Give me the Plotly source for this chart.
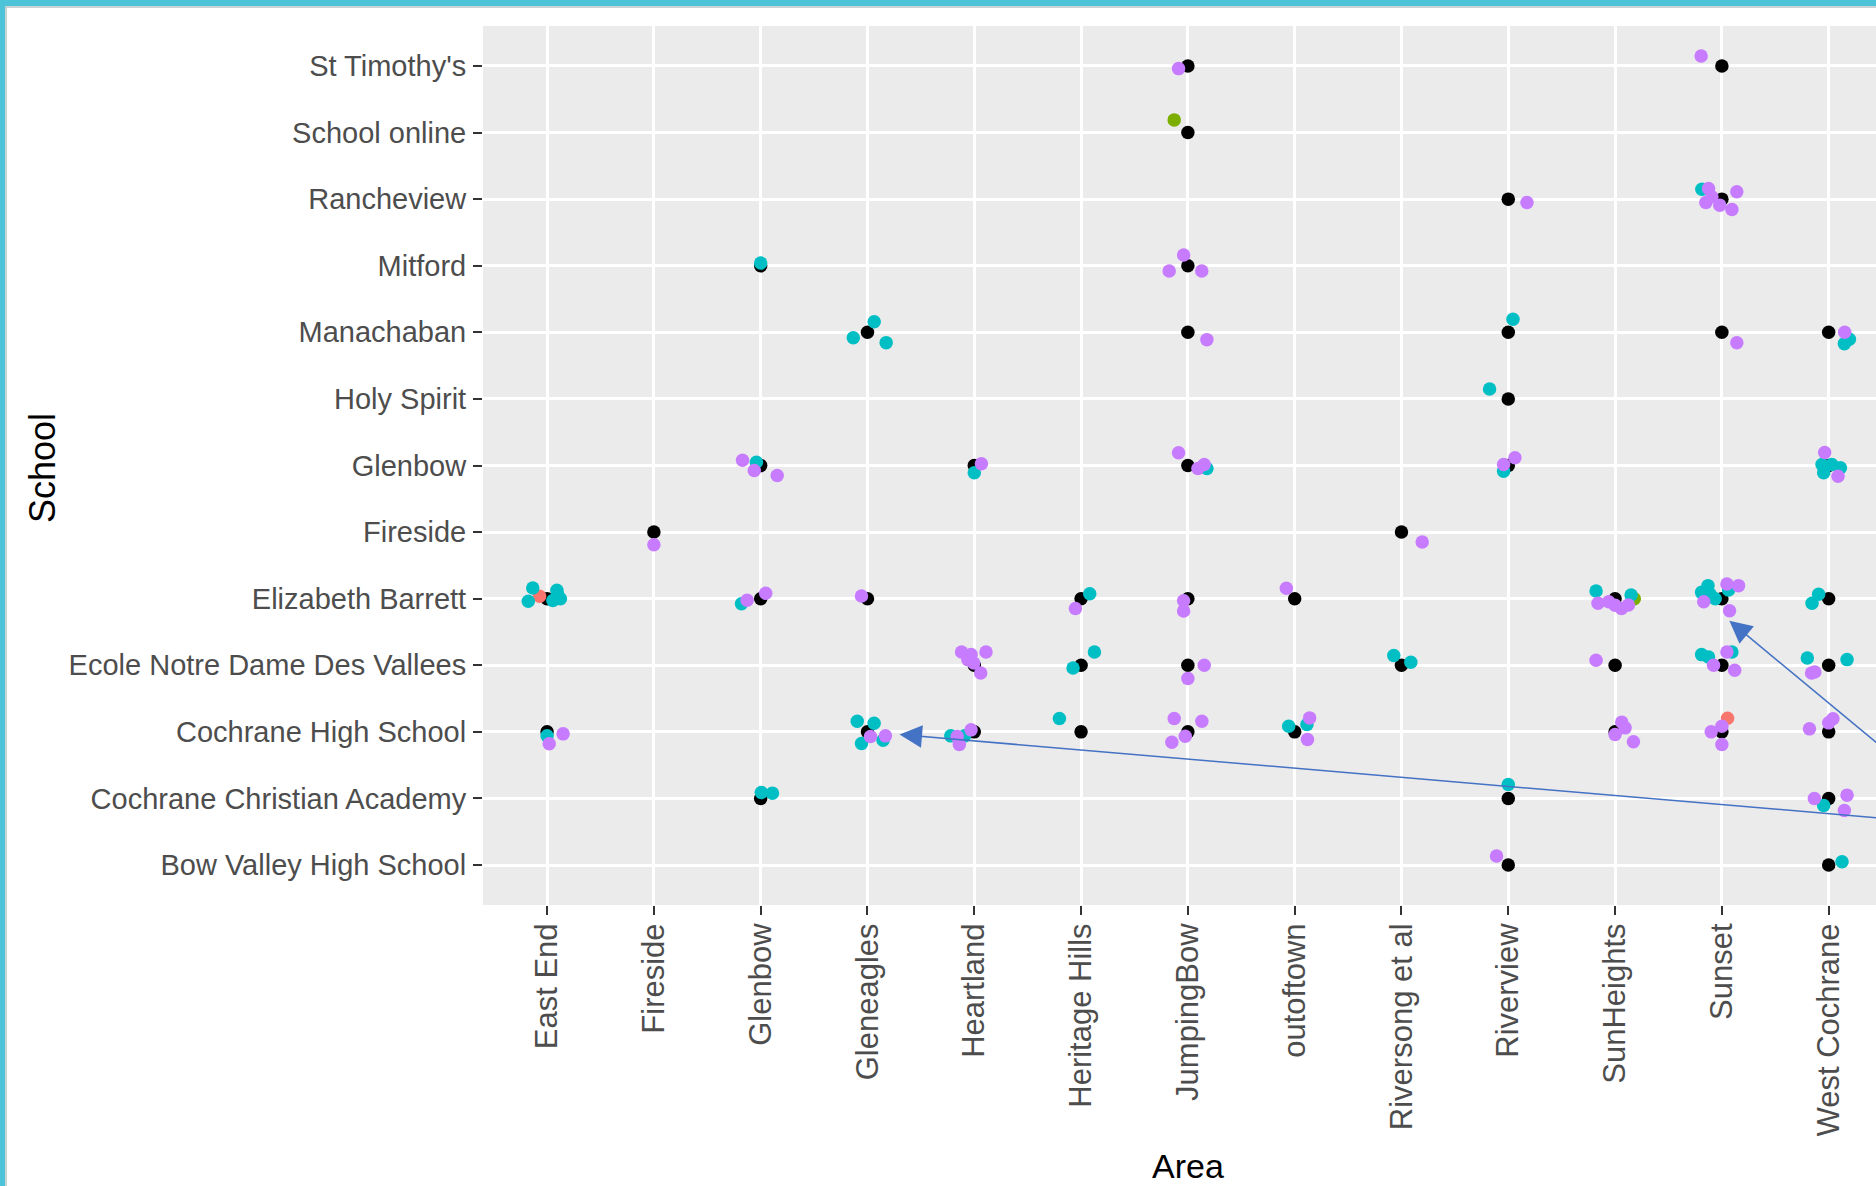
import plotly.graph_objects as go

# ---------------- data ----------------
areas = ["East End", "Fireside", "Glenbow", "Gleneagles", "Heartland", "Heritage Hills",
         "JumpingBow", "outoftown", "Riversong et al", "Riverview", "SunHeights",
         "Sunset", "West Cochrane"]

schools = ["Bow Valley High School", "Cochrane Christian Academy", "Cochrane High School",
           "Ecole Notre Dame Des Vallees", "Elizabeth Barrett", "Fireside", "Glenbow",
           "Holy Spirit", "Manachaban", "Mitford", "Rancheview", "School online",
           "St Timothy's"]

# black points: (area, school) observed combinations
observed = [
    ("East End", "Elizabeth Barrett"), ("East End", "Cochrane High School"),
    ("Fireside", "Fireside"),
    ("Glenbow", "Mitford"), ("Glenbow", "Glenbow"), ("Glenbow", "Elizabeth Barrett"),
    ("Glenbow", "Cochrane Christian Academy"),
    ("Gleneagles", "Manachaban"), ("Gleneagles", "Elizabeth Barrett"),
    ("Gleneagles", "Cochrane High School"),
    ("Heartland", "Glenbow"), ("Heartland", "Ecole Notre Dame Des Vallees"),
    ("Heartland", "Cochrane High School"),
    ("Heritage Hills", "Elizabeth Barrett"), ("Heritage Hills", "Ecole Notre Dame Des Vallees"),
    ("Heritage Hills", "Cochrane High School"),
    ("JumpingBow", "St Timothy's"), ("JumpingBow", "School online"), ("JumpingBow", "Mitford"),
    ("JumpingBow", "Manachaban"), ("JumpingBow", "Glenbow"), ("JumpingBow", "Elizabeth Barrett"),
    ("JumpingBow", "Ecole Notre Dame Des Vallees"), ("JumpingBow", "Cochrane High School"),
    ("outoftown", "Elizabeth Barrett"), ("outoftown", "Cochrane High School"),
    ("Riversong et al", "Fireside"), ("Riversong et al", "Ecole Notre Dame Des Vallees"),
    ("Riverview", "Rancheview"), ("Riverview", "Manachaban"), ("Riverview", "Holy Spirit"),
    ("Riverview", "Glenbow"), ("Riverview", "Cochrane Christian Academy"),
    ("Riverview", "Bow Valley High School"),
    ("SunHeights", "Elizabeth Barrett"), ("SunHeights", "Ecole Notre Dame Des Vallees"),
    ("SunHeights", "Cochrane High School"),
    ("Sunset", "St Timothy's"), ("Sunset", "Rancheview"), ("Sunset", "Manachaban"),
    ("Sunset", "Elizabeth Barrett"), ("Sunset", "Ecole Notre Dame Des Vallees"),
    ("Sunset", "Cochrane High School"),
    ("West Cochrane", "Manachaban"), ("West Cochrane", "Glenbow"),
    ("West Cochrane", "Elizabeth Barrett"), ("West Cochrane", "Ecole Notre Dame Des Vallees"),
    ("West Cochrane", "Cochrane High School"), ("West Cochrane", "Cochrane Christian Academy"),
    ("West Cochrane", "Bow Valley High School"),
]

# jittered points per group: (area, school, jitter_x, jitter_y)
group1_pts = [  # red
    ("East End", "Elizabeth Barrett", -0.07, 0.035),
    ("Sunset", "Cochrane High School", 0.053, 0.206),
]
group2_pts = [  # green
    ("JumpingBow", "School online", -0.128, 0.19),
    ("SunHeights", "Elizabeth Barrett", 0.18, 0.0),
]
group3_pts = [  # cyan
    ("East End", "Elizabeth Barrett", -0.134, 0.16),
    ("East End", "Elizabeth Barrett", -0.176, -0.04),
    ("East End", "Elizabeth Barrett", 0.092, 0.125),
    ("East End", "Elizabeth Barrett", 0.125, 0.0),
    ("East End", "Elizabeth Barrett", 0.054, -0.026),
    ("East End", "Elizabeth Barrett", 0.10, 0.06),
    ("East End", "Cochrane High School", 0.0, -0.06),
    ("Glenbow", "Mitford", 0.0, 0.04),
    ("Glenbow", "Glenbow", -0.04, 0.05),
    ("Glenbow", "Elizabeth Barrett", -0.18, -0.075),
    ("Glenbow", "Cochrane Christian Academy", 0.006, 0.09),
    ("Glenbow", "Cochrane Christian Academy", 0.11, 0.08),
    ("Gleneagles", "Manachaban", 0.063, 0.16),
    ("Gleneagles", "Manachaban", -0.133, -0.08),
    ("Gleneagles", "Manachaban", 0.175, -0.155),
    ("Gleneagles", "Cochrane High School", -0.096, 0.16),
    ("Gleneagles", "Cochrane High School", 0.062, 0.13),
    ("Gleneagles", "Cochrane High School", 0.146, -0.125),
    ("Gleneagles", "Cochrane High School", -0.056, -0.176),
    ("Heartland", "Glenbow", 0.0, -0.11),
    ("Heartland", "Cochrane High School", -0.22, -0.06),
    ("Heartland", "Cochrane High School", -0.09, -0.06),
    ("Heritage Hills", "Elizabeth Barrett", 0.081, 0.075),
    ("Heritage Hills", "Ecole Notre Dame Des Vallees", -0.075, -0.04),
    ("Heritage Hills", "Ecole Notre Dame Des Vallees", 0.125, 0.2),
    ("Heritage Hills", "Cochrane High School", -0.203, 0.2),
    ("JumpingBow", "Glenbow", 0.178, -0.045),
    ("outoftown", "Cochrane High School", -0.056, 0.085),
    ("outoftown", "Cochrane High School", 0.115, 0.11),
    ("Riversong et al", "Ecole Notre Dame Des Vallees", -0.072, 0.146),
    ("Riversong et al", "Ecole Notre Dame Des Vallees", 0.0875, 0.045),
    ("Riverview", "Manachaban", 0.044, 0.196),
    ("Riverview", "Holy Spirit", -0.175, 0.15),
    ("Riverview", "Glenbow", -0.044, -0.085),
    ("Riverview", "Cochrane Christian Academy", 0.0, 0.21),
    ("SunHeights", "Elizabeth Barrett", -0.178, 0.115),
    ("SunHeights", "Elizabeth Barrett", 0.15, 0.055),
    ("Sunset", "Rancheview", -0.1875, 0.15),
    ("Sunset", "Elizabeth Barrett", -0.19, 0.095),
    ("Sunset", "Elizabeth Barrett", -0.13, 0.196),
    ("Sunset", "Elizabeth Barrett", -0.11, 0.065),
    ("Sunset", "Elizabeth Barrett", -0.0625, 0.0),
    ("Sunset", "Elizabeth Barrett", 0.0625, 0.13),
    ("Sunset", "Ecole Notre Dame Des Vallees", -0.19, 0.16),
    ("Sunset", "Ecole Notre Dame Des Vallees", -0.125, 0.125),
    ("Sunset", "Ecole Notre Dame Des Vallees", 0.094, 0.2),
    ("West Cochrane", "Manachaban", 0.194, -0.105),
    ("West Cochrane", "Manachaban", 0.147, -0.17),
    ("West Cochrane", "Glenbow", -0.0625, 0.015),
    ("West Cochrane", "Glenbow", 0.03, 0.015),
    ("West Cochrane", "Glenbow", 0.11, -0.035),
    ("West Cochrane", "Glenbow", -0.047, -0.11),
    ("West Cochrane", "Elizabeth Barrett", -0.094, 0.065),
    ("West Cochrane", "Elizabeth Barrett", -0.156, -0.07),
    ("West Cochrane", "Ecole Notre Dame Des Vallees", -0.2, 0.11),
    ("West Cochrane", "Ecole Notre Dame Des Vallees", 0.172, 0.085),
    ("West Cochrane", "Cochrane Christian Academy", -0.047, -0.105),
    ("West Cochrane", "Bow Valley High School", 0.125, 0.05),
]
group4_pts = [  # purple
    ("East End", "Cochrane High School", 0.02, -0.18),
    ("East End", "Cochrane High School", 0.15, -0.03),
    ("Fireside", "Fireside", 0.0, -0.19),
    ("Glenbow", "Glenbow", -0.17, 0.08),
    ("Glenbow", "Glenbow", -0.06, -0.075),
    ("Glenbow", "Glenbow", 0.155, -0.15),
    ("Glenbow", "Elizabeth Barrett", -0.127, -0.025),
    ("Glenbow", "Elizabeth Barrett", 0.047, 0.08),
    ("Gleneagles", "Elizabeth Barrett", -0.056, 0.04),
    ("Gleneagles", "Cochrane High School", 0.028, -0.07),
    ("Gleneagles", "Cochrane High School", 0.168, -0.06),
    ("Heartland", "Glenbow", 0.067, 0.025),
    ("Heartland", "Ecole Notre Dame Des Vallees", -0.119, 0.2),
    ("Heartland", "Ecole Notre Dame Des Vallees", -0.03, 0.16),
    ("Heartland", "Ecole Notre Dame Des Vallees", 0.11, 0.2),
    ("Heartland", "Ecole Notre Dame Des Vallees", -0.06, 0.085),
    ("Heartland", "Ecole Notre Dame Des Vallees", -0.006, 0.035),
    ("Heartland", "Ecole Notre Dame Des Vallees", 0.06, -0.115),
    ("Heartland", "Cochrane High School", -0.16, -0.07),
    ("Heartland", "Cochrane High School", -0.14, -0.19),
    ("Heartland", "Cochrane High School", -0.03, 0.03),
    ("Heritage Hills", "Elizabeth Barrett", -0.053, -0.146),
    ("JumpingBow", "St Timothy's", -0.0875, -0.04),
    ("JumpingBow", "Mitford", -0.04, 0.16),
    ("JumpingBow", "Mitford", -0.175, -0.08),
    ("JumpingBow", "Mitford", 0.13, -0.08),
    ("JumpingBow", "Manachaban", 0.178, -0.11),
    ("JumpingBow", "Glenbow", -0.0875, 0.19),
    ("JumpingBow", "Glenbow", 0.094, -0.045),
    ("JumpingBow", "Glenbow", 0.153, 0.015),
    ("JumpingBow", "Elizabeth Barrett", -0.04, -0.03),
    ("JumpingBow", "Elizabeth Barrett", -0.04, -0.186),
    ("JumpingBow", "Ecole Notre Dame Des Vallees", 0.153, 0.0),
    ("JumpingBow", "Ecole Notre Dame Des Vallees", 0.0, -0.2),
    ("JumpingBow", "Cochrane High School", -0.128, 0.2),
    ("JumpingBow", "Cochrane High School", 0.131, 0.16),
    ("JumpingBow", "Cochrane High School", -0.025, -0.065),
    ("JumpingBow", "Cochrane High School", -0.15, -0.156),
    ("outoftown", "Elizabeth Barrett", -0.078, 0.156),
    ("outoftown", "Cochrane High School", 0.14, 0.21),
    ("outoftown", "Cochrane High School", 0.12, -0.115),
    ("Riversong et al", "Fireside", 0.194, -0.15),
    ("Riverview", "Rancheview", 0.175, -0.05),
    ("Riverview", "Glenbow", 0.0625, 0.115),
    ("Riverview", "Glenbow", -0.044, 0.015),
    ("Riverview", "Bow Valley High School", -0.11, 0.135),
    ("SunHeights", "Elizabeth Barrett", -0.16, -0.07),
    ("SunHeights", "Elizabeth Barrett", -0.06, -0.045),
    ("SunHeights", "Elizabeth Barrett", 0.0, -0.1),
    ("SunHeights", "Elizabeth Barrett", 0.06, -0.146),
    ("SunHeights", "Elizabeth Barrett", 0.125, -0.095),
    ("SunHeights", "Ecole Notre Dame Des Vallees", -0.178, 0.075),
    ("SunHeights", "Cochrane High School", 0.0625, 0.146),
    ("SunHeights", "Cochrane High School", 0.094, 0.06),
    ("SunHeights", "Cochrane High School", 0.0, -0.04),
    ("SunHeights", "Cochrane High School", 0.172, -0.15),
    ("Sunset", "St Timothy's", -0.194, 0.15),
    ("Sunset", "Rancheview", -0.125, 0.16),
    ("Sunset", "Rancheview", -0.094, 0.035),
    ("Sunset", "Rancheview", -0.15, -0.05),
    ("Sunset", "Rancheview", -0.02, -0.09),
    ("Sunset", "Rancheview", 0.094, -0.156),
    ("Sunset", "Rancheview", 0.14, 0.11),
    ("Sunset", "Manachaban", 0.14, -0.156),
    ("Sunset", "Elizabeth Barrett", 0.047, 0.22),
    ("Sunset", "Elizabeth Barrett", 0.156, 0.196),
    ("Sunset", "Elizabeth Barrett", -0.17, -0.045),
    ("Sunset", "Elizabeth Barrett", 0.072, -0.18),
    ("Sunset", "Ecole Notre Dame Des Vallees", -0.078, 0.0),
    ("Sunset", "Ecole Notre Dame Des Vallees", 0.047, 0.2),
    ("Sunset", "Ecole Notre Dame Des Vallees", 0.12, -0.075),
    ("Sunset", "Cochrane High School", 0.0, 0.085),
    ("Sunset", "Cochrane High School", -0.1, 0.0),
    ("Sunset", "Cochrane High School", 0.0, -0.19),
    ("West Cochrane", "Manachaban", 0.15, 0.0),
    ("West Cochrane", "Glenbow", -0.0375, 0.196),
    ("West Cochrane", "Glenbow", 0.0875, -0.16),
    ("West Cochrane", "Ecole Notre Dame Des Vallees", -0.16, -0.115),
    ("West Cochrane", "Ecole Notre Dame Des Vallees", -0.13, -0.1),
    ("West Cochrane", "Cochrane High School", -0.18, 0.045),
    ("West Cochrane", "Cochrane High School", 0.0, 0.135),
    ("West Cochrane", "Cochrane High School", 0.04, 0.196),
    ("West Cochrane", "Cochrane Christian Academy", -0.134, 0.0),
    ("West Cochrane", "Cochrane Christian Academy", 0.172, 0.05),
    ("West Cochrane", "Cochrane Christian Academy", 0.147, -0.18),
]

group_colors = ["#F8766D", "#7CAE00", "#00BFC4", "#C77CFF"]

# ---------------- figure ----------------
W, H = 1876, 1186
ML, MR, MT, MB = 483, 0, 26, 281
PW, PH = W - ML - MR, H - MT - MB

def px_x(px):
    return (px - ML) / PW

def px_y(py):
    return (H - MB - py) / PH

ai = {a: i for i, a in enumerate(areas)}
si = {s: i for i, s in enumerate(schools)}

fig = go.Figure()

fig.add_trace(go.Scatter(
    x=[ai[a] for a, s in observed], y=[si[s] for a, s in observed],
    mode="markers", marker=dict(color="black", size=13.5, line=dict(width=0)),
    showlegend=False, hoverinfo="skip"))

for pts, col in zip([group1_pts, group2_pts, group3_pts, group4_pts], group_colors):
    fig.add_trace(go.Scatter(
        x=[ai[a] + dx for a, s, dx, dy in pts],
        y=[si[s] + dy for a, s, dx, dy in pts],
        mode="markers", marker=dict(color=col, size=13.5, line=dict(width=0)),
        showlegend=False, hoverinfo="skip"))

xstep = 106.8  # px per category
x_max = (W - MR - (ML + 0.6 * xstep)) / xstep

tickfont_y = dict(family="Liberation Sans, Arial, sans-serif", size=29, color="#4D4D4D")
tickfont_x = dict(family="Liberation Sans, Arial, sans-serif", size=31, color="#4D4D4D")

fig.update_xaxes(range=[-0.6, x_max], tickmode="array", tickvals=list(range(len(areas))),
                 ticktext=areas, tickangle=-90, tickfont=tickfont_x,
                 showgrid=True, gridcolor="white", gridwidth=2.6, zeroline=False,
                 ticks="outside", ticklen=9, tickwidth=2, tickcolor="#333333",
                 ticklabelstandoff=-4, showline=False)
fig.update_yaxes(range=[-0.6, len(schools) - 0.4], tickmode="array",
                 tickvals=list(range(len(schools))), ticktext=schools, tickfont=tickfont_y,
                 showgrid=True, gridcolor="white", gridwidth=2.6, zeroline=False,
                 ticks="outside", ticklen=9, tickwidth=2, tickcolor="#333333",
                 ticklabelstandoff=1, showline=False)

annotations = [
    dict(text="School", x=px_x(42), y=px_y(468), xref="paper", yref="paper",
         showarrow=False, textangle=-90, xanchor="center", yanchor="middle",
         font=dict(family="Liberation Sans, Arial, sans-serif", size=36, color="black")),
    dict(text="Area", x=px_x(1188), y=px_y(1166), xref="paper", yref="paper",
         showarrow=False, xanchor="center", yanchor="middle",
         font=dict(family="Liberation Sans, Arial, sans-serif", size=34, color="black")),
    # callout arrows
    dict(text="", x=3.30, y=1.96, ax=13.4, ay=0.58, xref="x", yref="y", axref="x", ayref="y",
         showarrow=True, arrowhead=2, arrowsize=3, arrowwidth=1.5, arrowcolor="#4472C4",
         standoff=0),
    dict(text="", x=11.07, y=3.67, ax=13.4, ay=0.57, xref="x", yref="y", axref="x", ayref="y",
         showarrow=True, arrowhead=2, arrowsize=3, arrowwidth=1.5, arrowcolor="#4472C4",
         standoff=0),
]

cyan = "#4CC3D8"
shapes = [
    dict(type="rect", xref="paper", yref="paper", x0=px_x(0), x1=px_x(W), y0=px_y(0), y1=px_y(6),
         fillcolor=cyan, line=dict(width=0), layer="above"),
    dict(type="line", xref="paper", yref="paper", x0=px_x(5), x1=px_x(W), y0=px_y(7), y1=px_y(7),
         line=dict(color="#B8C4C8", width=1.5), layer="above"),
    dict(type="rect", xref="paper", yref="paper", x0=px_x(0), x1=px_x(5), y0=px_y(0), y1=px_y(H),
         fillcolor=cyan, line=dict(width=0), layer="above"),
    dict(type="line", xref="paper", yref="paper", x0=px_x(6), x1=px_x(6), y0=px_y(7), y1=px_y(H),
         line=dict(color="#B8C4C8", width=1.5), layer="above"),
]

fig.update_layout(
    width=W, height=H, autosize=False,
    margin=dict(l=ML, r=MR, t=MT, b=MB, pad=0),
    plot_bgcolor="#EBEBEB", paper_bgcolor="white",
    annotations=annotations, shapes=shapes, showlegend=False,
)

fig.write_html("out.html", config={"displayModeBar": False},
               post_script="document.body.style.margin='0';document.body.style.padding='0';"
                           "document.documentElement.style.overflow='hidden';")
